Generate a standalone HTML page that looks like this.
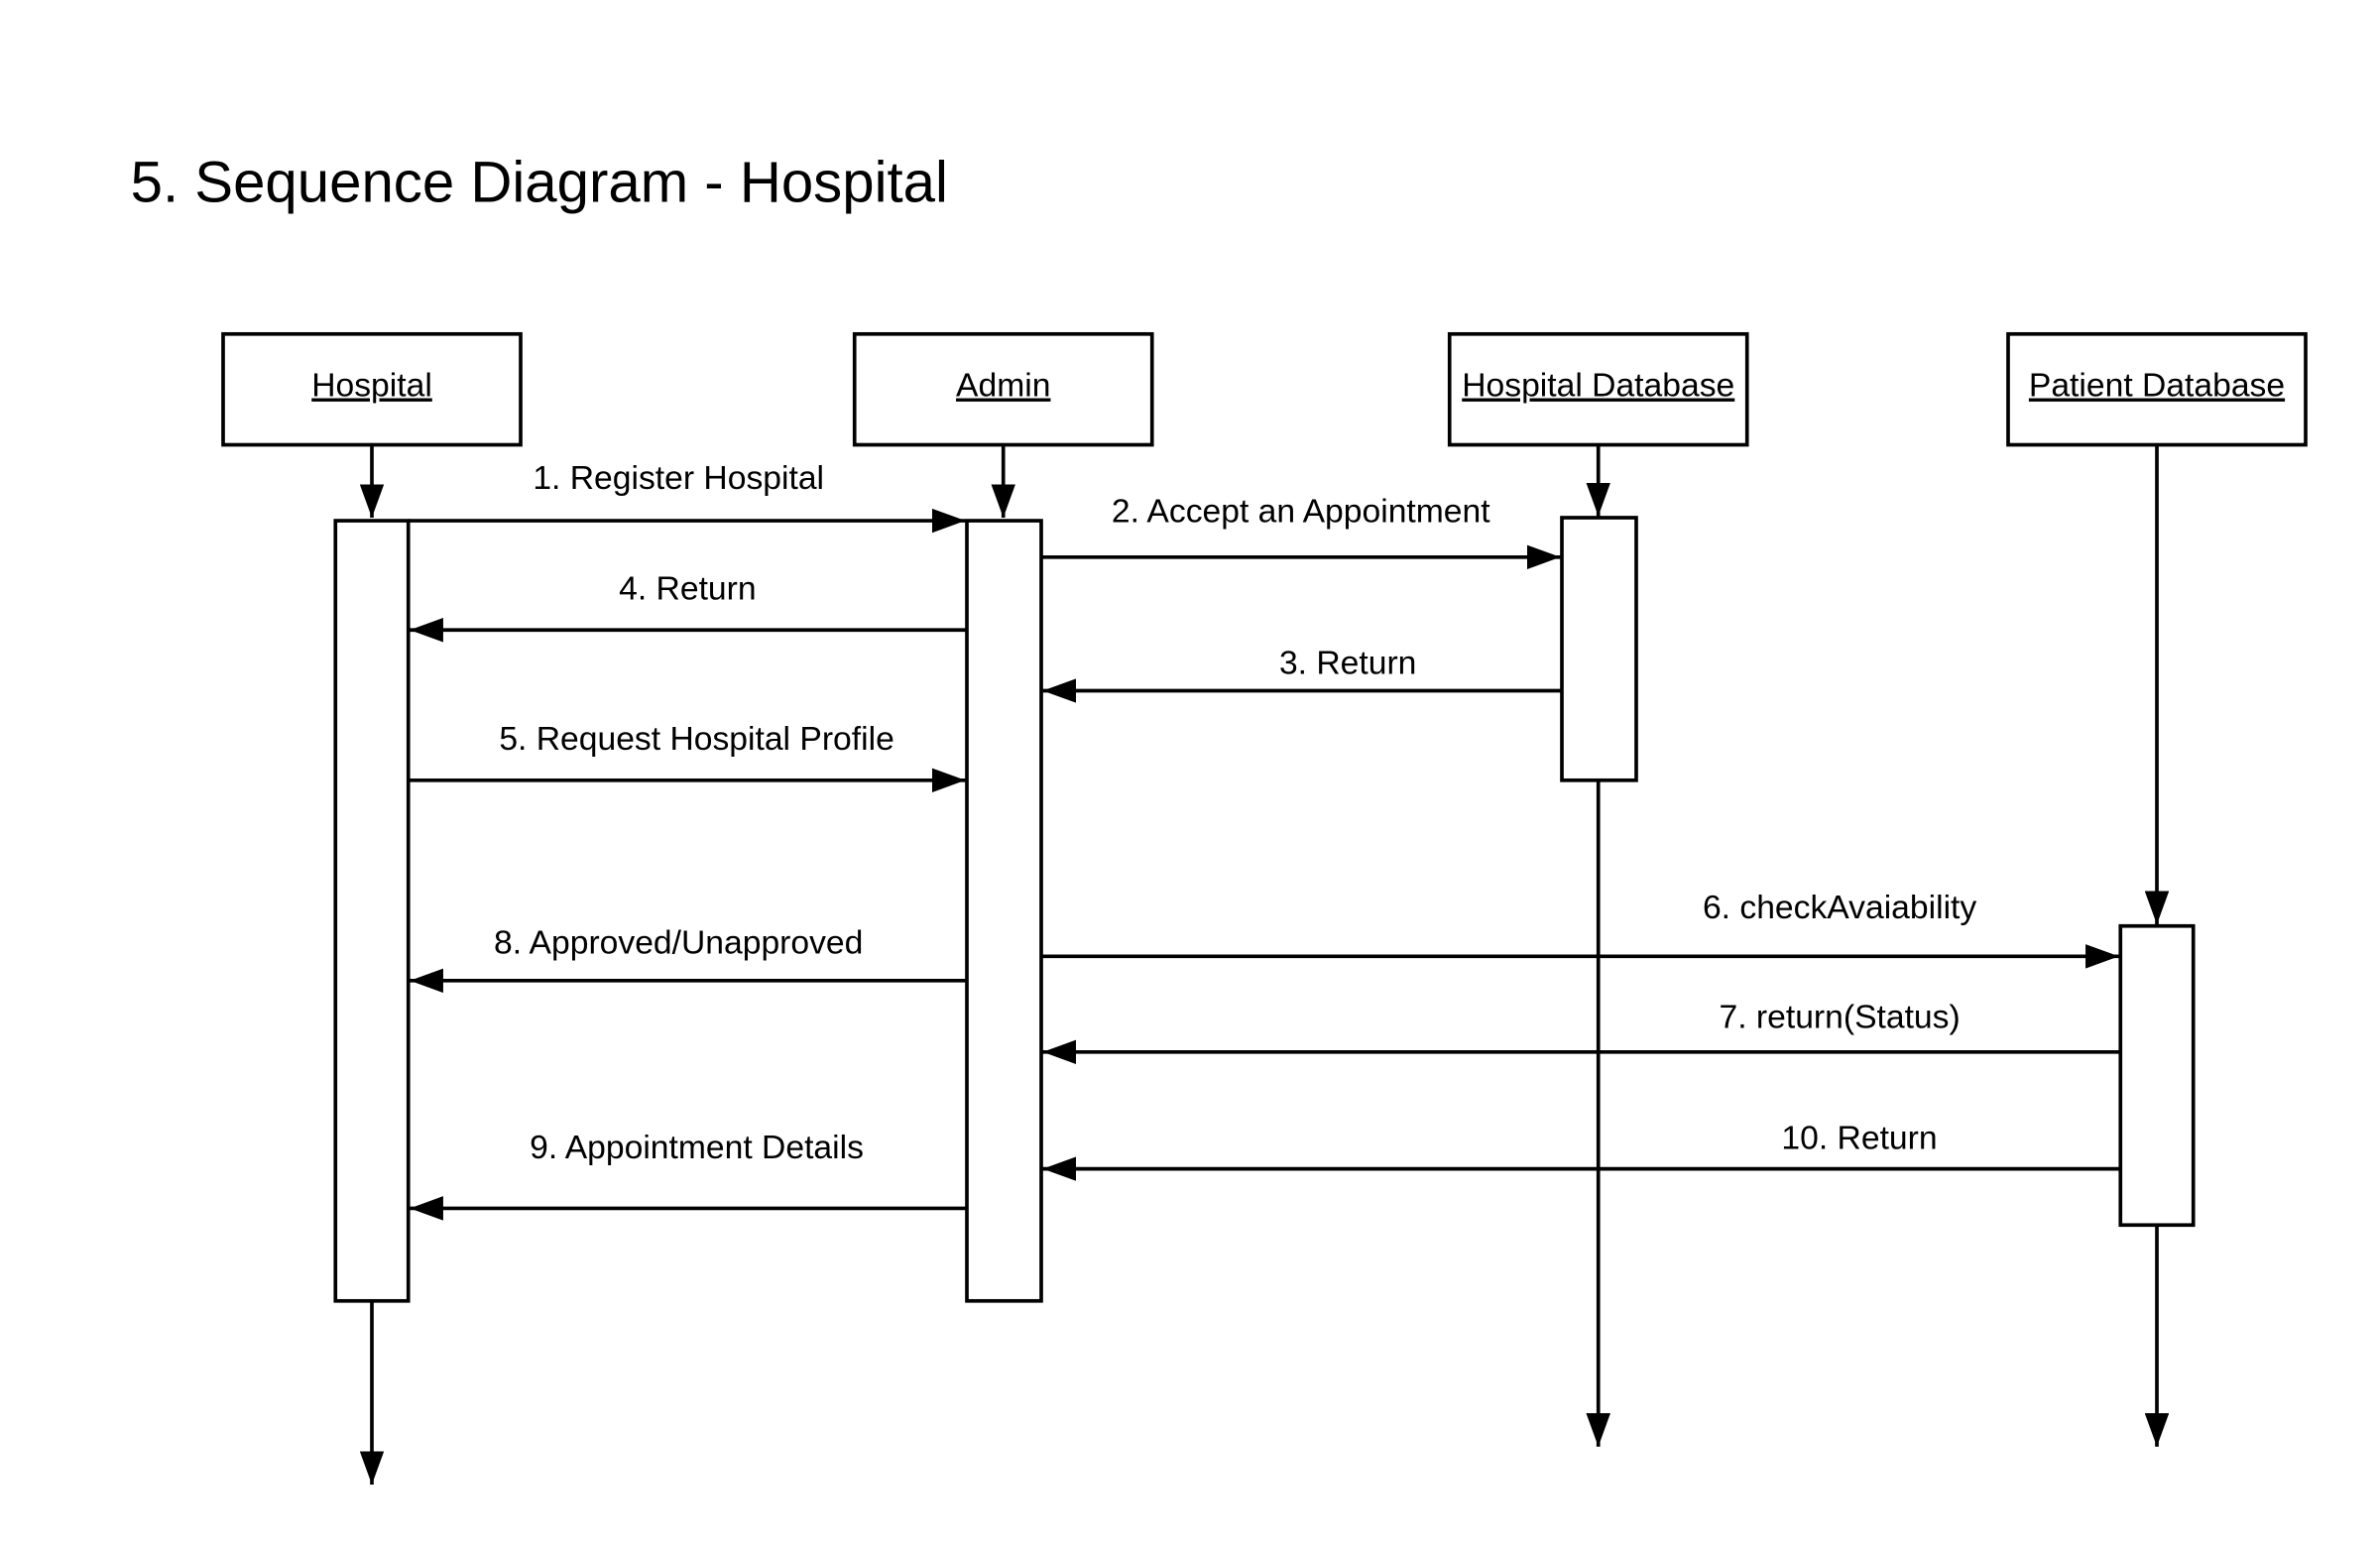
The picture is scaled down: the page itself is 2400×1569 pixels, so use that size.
<!DOCTYPE html>
<html><head><meta charset="utf-8"><style>html,body{margin:0;padding:0;background:#fff}svg{display:block}</style></head>
<body>
<svg width="2400" height="1569" viewBox="0 0 1568 1025" xmlns="http://www.w3.org/2000/svg" font-family="Liberation Sans, sans-serif">
<defs>
<marker id="a" markerWidth="22" markerHeight="16" refX="22" refY="8" orient="auto" markerUnits="userSpaceOnUse"><path d="M0,0 L22,8 L0,16 z" fill="#000"/></marker>
</defs>
<rect width="1568" height="1025" fill="#fff"/>
<text x="86" y="133" font-size="38">5. Sequence Diagram - Hospital</text>
<g fill="#fff" stroke="#000" stroke-width="2.4">
<rect x="147" y="220" width="196" height="73"/>
<rect x="563" y="220" width="196" height="73"/>
<rect x="955" y="220" width="196" height="73"/>
<rect x="1323" y="220" width="196" height="73"/>
</g>
<g font-size="22" text-anchor="middle" text-decoration="underline">
<text x="245" y="261">Hospital</text>
<text x="661" y="261">Admin</text>
<text x="1053" y="261">Hospital Database</text>
<text x="1421" y="261">Patient Database</text>
</g>
<g stroke="#000" stroke-width="2.4" fill="none">
<line x1="245" y1="293" x2="245" y2="341" marker-end="url(#a)"/>
<line x1="661" y1="293" x2="661" y2="341" marker-end="url(#a)"/>
<line x1="1053" y1="293" x2="1053" y2="340" marker-end="url(#a)"/>
<line x1="1421" y1="293" x2="1421" y2="609" marker-end="url(#a)"/>
<line x1="245" y1="857" x2="245" y2="978" marker-end="url(#a)"/>
<line x1="1053" y1="514" x2="1053" y2="953" marker-end="url(#a)"/>
<line x1="1421" y1="807" x2="1421" y2="953" marker-end="url(#a)"/>
</g>
<g fill="#fff" stroke="#000" stroke-width="2.4">
<rect x="221" y="343" width="48" height="514"/>
<rect x="637" y="343" width="49" height="514"/>
<rect x="1029" y="341" width="49" height="173"/>
<rect x="1397" y="610" width="48" height="197"/>
</g>
<g stroke="#000" stroke-width="2.4" fill="none">
<line x1="269" y1="343" x2="636" y2="343" marker-end="url(#a)"/>
<line x1="686" y1="367" x2="1028" y2="367" marker-end="url(#a)"/>
<line x1="637" y1="415" x2="270" y2="415" marker-end="url(#a)"/>
<line x1="1029" y1="455" x2="687" y2="455" marker-end="url(#a)"/>
<line x1="269" y1="514" x2="636" y2="514" marker-end="url(#a)"/>
<line x1="686" y1="630" x2="1396" y2="630" marker-end="url(#a)"/>
<line x1="637" y1="646" x2="270" y2="646" marker-end="url(#a)"/>
<line x1="1397" y1="693" x2="687" y2="693" marker-end="url(#a)"/>
<line x1="1397" y1="770" x2="687" y2="770" marker-end="url(#a)"/>
<line x1="637" y1="796" x2="270" y2="796" marker-end="url(#a)"/>
</g>
<g font-size="22" text-anchor="middle">
<text x="447" y="322">1. Register Hospital</text>
<text x="857" y="344">2. Accept an Appointment</text>
<text x="453" y="395">4. Return</text>
<text x="888" y="444">3. Return</text>
<text x="459" y="494">5. Request Hospital Profile</text>
<text x="1212" y="605">6. checkAvaiability</text>
<text x="447" y="628">8. Approved/Unapproved</text>
<text x="1212" y="677">7. return(Status)</text>
<text x="1225" y="757">10. Return</text>
<text x="459" y="763">9. Appointment Details</text>
</g>
</svg>
</body></html>
